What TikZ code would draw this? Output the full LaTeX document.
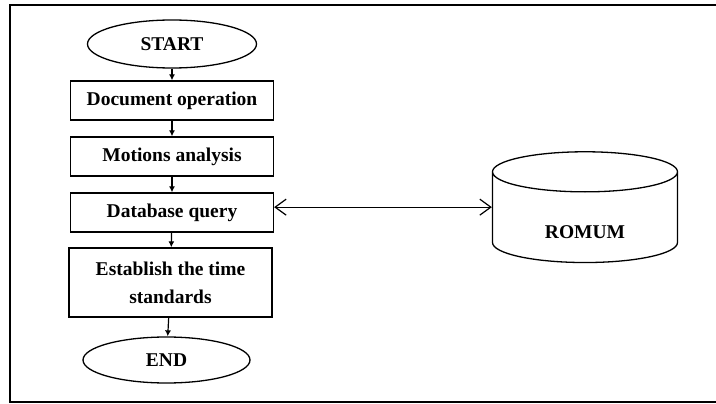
\documentclass[tikz,border=0pt]{standalone}
\usepackage{fontspec}
\setmainfont{Liberation Serif}
\usetikzlibrary{shapes,arrows,arrows.meta,positioning}
\tikzstyle{block} = [rectangle, draw, line width=1.3pt, minimum width=203pt,
    minimum height=39pt, inner sep=0pt, text centered]
\tikzstyle{term} = [draw, ellipse, line width=1.3pt, minimum width=169pt,
    minimum height=48pt, inner sep=0pt]
\tikzstyle{store} = [draw, cylinder, shape border rotate=90, line width=1.3pt,
    minimum width=185pt, minimum height=68pt, aspect=0.5, inner sep=0pt,
    text height=46pt, text depth=4pt]
\tikzstyle{line} = [draw, line width=1.2pt, -{Latex[length=6pt,width=6pt]}]

\begin{document}
\begin{tikzpicture}[x=1pt, y=-1pt, node distance = 56pt,
    font=\bfseries\fontsize{19.5}{23}\selectfont]
  \useasboundingbox (0,0) rectangle (716,404);
  % frame
  \draw [line width=2pt] (716,5) -- (10,5) -- (10,402) -- (716,402);
  % Place nodes
  \node [term] (start) at (172,44) {START};
  \node [block, below of=start, node distance=56.5pt] (docop)
  {Document operation};
  \node [block, below of=docop] (motion) {Motions analysis};
  \node [block, below of=motion] (dbquery) {Database query};
  \node [block, below of=dbquery, node distance=70pt, minimum height=69pt,
  xshift=-1.5pt, align=center] (timestd)
  {Establish the time\\[5pt] standards};
  \node [term, below of=timestd, node distance=77.5pt, xshift=-4pt,
  minimum width=167pt, minimum height=46pt] (end) {END};
  \node [store, right of=dbquery, node distance=413pt, yshift=-5pt] (romum)
  {ROMUM};
  % Draw edges
  \path [line] (start) -- (docop);
  \path [line] (docop) -- (motion);
  \path [line] (motion) -- (dbquery);
  \path [line] (dbquery) -- (timestd);
  \path [line] (timestd) -- (end);
  \draw [{Straight Barb[length=11pt,width=16pt]}-{Straight Barb[length=11pt,width=16pt]},
  line width=1.2pt] (dbquery.east |- romum.shape center) -- (romum.shape center -| romum.west);
\end{tikzpicture}
\end{document}
